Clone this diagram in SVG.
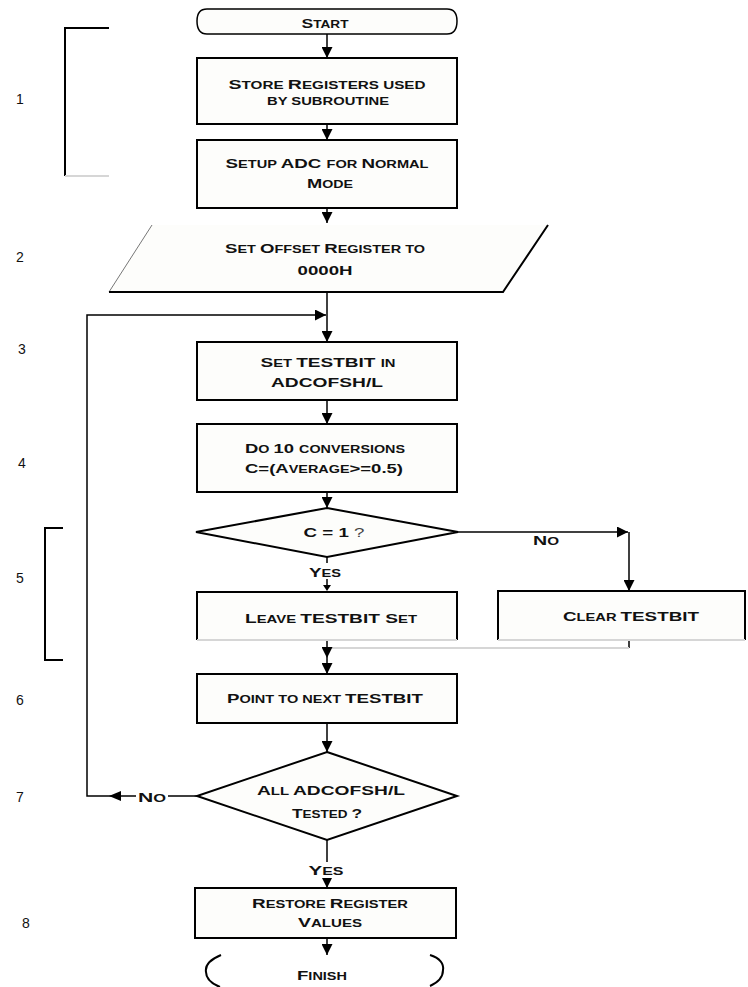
<svg xmlns="http://www.w3.org/2000/svg" width="748" height="987" viewBox="0 0 748 987">
<defs>
<style>
.box{fill:#fdfdfb;stroke:#000;stroke-width:2}
.fill{fill:#fdfdfb;stroke:none}
.edge{stroke:#000;stroke-width:2;fill:none}
.light{stroke:#d6d6d6;stroke-width:2;fill:none}
.t{font-family:"Liberation Sans",Arial,sans-serif;font-weight:bold;font-size:13.5px;fill:#111;text-anchor:middle}
.s{font-size:10.5px}
.c{stroke:#000;stroke-width:1.5;fill:none}
.num{font-family:"Liberation Sans",Arial,sans-serif;font-size:14px;fill:#111}
.br{stroke:#000;stroke-width:2;fill:none}
</style>
<marker id="ah" markerUnits="userSpaceOnUse" markerWidth="11" markerHeight="11" refX="10" refY="5" orient="auto" viewBox="0 0 10 10">
<path d="M0,0 L10,5 L0,10 Z" fill="#000"/>
</marker>
</defs>
<rect width="748" height="987" fill="#fff"/>

<g id="labels">
<text class="num" x="16" y="104">1</text>
<text class="num" x="16" y="262">2</text>
<text class="num" x="18" y="354">3</text>
<text class="num" x="18" y="468">4</text>
<text class="num" x="16" y="583">5</text>
<text class="num" x="16" y="705">6</text>
<text class="num" x="16" y="802">7</text>
<text class="num" x="22" y="928">8</text>
</g>

<g id="brackets">
<path class="br" d="M109,28 H65 V176"/>
<path class="light" d="M65,176 H109"/>
<path class="br" d="M63,528 H45 V660 H63"/>
</g>

<g id="connectors">
<line class="c" x1="327" y1="34" x2="327" y2="58" marker-end="url(#ah)"/>
<line class="c" x1="327" y1="124" x2="327" y2="140" marker-end="url(#ah)"/>
<line class="c" x1="327" y1="208" x2="327" y2="223" marker-end="url(#ah)"/>
<line class="c" x1="327" y1="292" x2="327" y2="342" marker-end="url(#ah)"/>
<path class="c" d="M197,796 H87 V315 H326" marker-end="url(#ah)"/>
<polygon points="109,796 121,791 121,801" fill="#000"/>
<line class="c" x1="327" y1="400" x2="327" y2="424" marker-end="url(#ah)"/>
<line class="c" x1="327" y1="492" x2="327" y2="508" marker-end="url(#ah)"/>
<line class="c" x1="327" y1="557" x2="327" y2="588"/>
<polygon points="323,585 331,585 327,591" fill="#000"/>
<path class="c" d="M458,532 H628" marker-end="url(#ah)"/>
<line class="c" x1="629" y1="532" x2="629" y2="591" marker-end="url(#ah)"/>
<line class="c" x1="629" y1="640" x2="629" y2="648"/>
<line class="light" x1="629" y1="648" x2="327" y2="648"/>
<line class="c" x1="327" y1="640" x2="327" y2="658" marker-end="url(#ah)"/>
<line class="c" x1="327" y1="658" x2="327" y2="674" marker-end="url(#ah)"/>
<line class="c" x1="327" y1="723" x2="327" y2="752" marker-end="url(#ah)"/>
<line class="c" x1="327" y1="840" x2="327" y2="888" marker-end="url(#ah)"/>
<line class="c" x1="327" y1="938" x2="327" y2="955" marker-end="url(#ah)"/>
<rect x="136" y="788" width="32" height="15" fill="#fff"/>
<text class="t" x="152" y="802" textLength="28" lengthAdjust="spacingAndGlyphs">N<tspan class="s">O</tspan></text>
<text class="t" x="546" y="545" textLength="26" lengthAdjust="spacingAndGlyphs">N<tspan class="s">O</tspan></text>
<rect x="305" y="563" width="44" height="16" fill="#fff"/>
<text class="t" x="325" y="577" textLength="32" lengthAdjust="spacingAndGlyphs">Y<tspan class="s">ES</tspan></text>
<rect x="305" y="862" width="44" height="16" fill="#fff"/>
<text class="t" x="326" y="875" textLength="35" lengthAdjust="spacingAndGlyphs">Y<tspan class="s">ES</tspan></text>
</g>

<g id="start">
<path d="M207,9 H447 C455,9 457,14 457,21 C457,28 455,34 447,34 H207 C199,34 197,28 197,21 C197,14 199,9 207,9 Z" fill="#fdfdfb" stroke="#000" stroke-width="1.5"/>
<text class="t" x="325" y="28" textLength="47" lengthAdjust="spacingAndGlyphs">S<tspan class="s">TART</tspan></text>
</g>

<g id="store">
<rect class="box" x="197" y="58" width="260" height="66"/>
<text class="t" x="327" y="89" textLength="197" lengthAdjust="spacingAndGlyphs">S<tspan class="s">TORE </tspan>R<tspan class="s">EGISTERS USED</tspan></text>
<text class="t" x="328" y="105" textLength="122" lengthAdjust="spacingAndGlyphs"><tspan class="s">BY SUBROUTINE</tspan></text>
</g>

<g id="setup">
<rect class="box" x="197" y="140" width="260" height="68"/>
<text class="t" x="327" y="168" textLength="203" lengthAdjust="spacingAndGlyphs">S<tspan class="s">ETUP </tspan>ADC <tspan class="s">FOR </tspan>N<tspan class="s">ORMAL</tspan></text>
<text class="t" x="330" y="188" textLength="46" lengthAdjust="spacingAndGlyphs">M<tspan class="s">ODE</tspan></text>
</g>

<g id="offset">
<polygon class="fill" points="152,225 548,225 503,292 109,292"/>
<line x1="152" y1="225" x2="109" y2="292" stroke="#777" stroke-width="1"/>
<path class="edge" d="M109,292 H503 L548,225"/>
<text class="t" x="325" y="253" textLength="200" lengthAdjust="spacingAndGlyphs">S<tspan class="s">ET </tspan>O<tspan class="s">FFSET </tspan>R<tspan class="s">EGISTER TO</tspan></text>
<text class="t" x="325" y="275" textLength="55" lengthAdjust="spacingAndGlyphs">0000H</text>
</g>

<g id="settestbit">
<rect class="box" x="197" y="342" width="260" height="58"/>
<text class="t" x="328" y="367" textLength="135" lengthAdjust="spacingAndGlyphs">S<tspan class="s">ET </tspan>TESTBIT <tspan class="s">IN</tspan></text>
<text class="t" x="327" y="387" textLength="112" lengthAdjust="spacingAndGlyphs">ADCOFSH/L</text>
</g>

<g id="conversions">
<rect class="box" x="197" y="424" width="260" height="68"/>
<text class="t" x="325" y="453" textLength="160" lengthAdjust="spacingAndGlyphs">D<tspan class="s">O </tspan>10 <tspan class="s">CONVERSIONS</tspan></text>
<text class="t" x="324" y="473" textLength="158" lengthAdjust="spacingAndGlyphs">C=(A<tspan class="s">VERAGE</tspan>&gt;=0.5)</text>
</g>

<g id="decision1">
<polygon class="box" points="327,508 458,532 327,557 196,532"/>
<text class="t" x="334" y="537" textLength="61" lengthAdjust="spacingAndGlyphs">C = 1 <tspan font-weight="normal" fill="#444">?</tspan></text>
</g>

<g id="leave">
<rect class="fill" x="197" y="592" width="260" height="48"/>
<path class="edge" d="M197,640 V592 H457 V640"/>
<line class="light" x1="197" y1="640" x2="457" y2="640"/>
<text class="t" x="331" y="623" textLength="172" lengthAdjust="spacingAndGlyphs">L<tspan class="s">EAVE </tspan>TESTBIT S<tspan class="s">ET</tspan></text>
</g>

<g id="clear">
<rect class="fill" x="498" y="591" width="247" height="49"/>
<path class="edge" d="M498,640 V591 H745 V640"/>
<line class="light" x1="498" y1="640" x2="745" y2="640"/>
<text class="t" x="631" y="621" textLength="136" lengthAdjust="spacingAndGlyphs">C<tspan class="s">LEAR </tspan>TESTBIT</text>
</g>

<g id="pointnext">
<rect class="box" x="197" y="674" width="260" height="49"/>
<text class="t" x="325" y="703" textLength="196" lengthAdjust="spacingAndGlyphs">P<tspan class="s">OINT TO NEXT </tspan>TESTBIT</text>
</g>

<g id="decision2">
<polygon class="box" points="327,752 457,796 327,840 197,796"/>
<text class="t" x="331" y="795" textLength="148" lengthAdjust="spacingAndGlyphs">A<tspan class="s">LL </tspan>ADCOFSH/L</text>
<text class="t" x="327" y="818" textLength="70" lengthAdjust="spacingAndGlyphs">T<tspan class="s">ESTED </tspan>?</text>
</g>

<g id="restore">
<rect class="box" x="195" y="888" width="261" height="50"/>
<text class="t" x="330" y="908" textLength="156" lengthAdjust="spacingAndGlyphs">R<tspan class="s">ESTORE </tspan>R<tspan class="s">EGISTER</tspan></text>
<text class="t" x="330" y="927" textLength="64" lengthAdjust="spacingAndGlyphs">V<tspan class="s">ALUES</tspan></text>
</g>

<g id="finish">
<path class="br" d="M221,955 C209,960 205,966 206,972 C206,978 210,983 220,987"/>
<path class="br" d="M430,955 C440,958 444,964 443,970 C443,977 439,982 430,986"/>
<text class="t" x="322" y="980" textLength="50" lengthAdjust="spacingAndGlyphs">F<tspan class="s">INISH</tspan></text>
</g>
</svg>
